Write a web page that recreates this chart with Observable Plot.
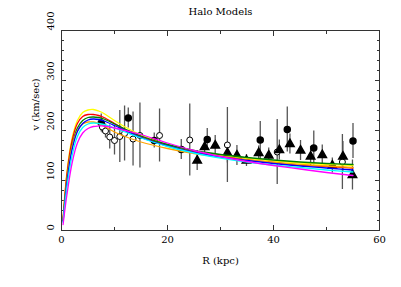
<!DOCTYPE html>
<html><head><meta charset="utf-8">
<script src="https://cdn.jsdelivr.net/npm/d3@7"></script>
<script src="https://cdn.jsdelivr.net/npm/@observablehq/plot@0.6"></script>
<style>body{margin:0;background:#fff;}</style>
</head><body><div id="chart"></div>
<script>
const title = "Halo Models";
const xLabel = "R (kpc)";
const yLabel = "v (km/sec)";
const xMajor = [0, 20, 40, 60];
const xMinor = [10, 30, 50];
const yMajor = [0, 100, 200, 300, 400];
const yMinor = [20, 40, 60, 80, 120, 140, 160, 180, 220, 240, 260, 280, 320, 340, 360, 380];

// model curves
const modelR   = [0.3, 1, 2, 3, 4, 5, 6, 7, 8, 10, 12, 15, 20, 25, 30, 35, 40, 45, 50, 55];
const yellowV  = [25, 115, 185, 220, 236, 241, 242, 239, 234, 220, 207, 191, 172, 159, 150, 144, 139, 135, 132, 130];
const redV     = [22, 110, 180, 214, 228, 232, 232, 230, 226, 214, 202, 188, 170, 157, 148, 141, 136, 131, 128, 125];
const greenV   = [20, 100, 170, 205, 220, 226, 227, 226, 223, 213, 203, 189, 172, 160, 152, 146, 141, 137, 134, 132];
const orangeV  = [20, 100, 168, 200, 213, 217, 217, 214, 209, 197, 188, 177, 164, 154, 147, 141, 136, 132, 129, 126];
const blueV    = [18, 95, 162, 198, 214, 221, 223, 222, 219, 210, 200, 186, 169, 156, 147, 140, 134, 129, 125, 121];
const cyanV    = [16, 85, 150, 188, 206, 213, 215, 214, 212, 205, 197, 185, 168, 155, 145, 137, 131, 126, 121, 117];
const magentaV = [12, 70, 135, 175, 195, 204, 208, 209, 209, 205, 200, 192, 175, 160, 148, 138, 130, 123, 116, 110];
const modelNames  = ["yellow", "red", "green", "orange", "blue", "cyan", "magenta"];
const modelColors = ["#ffee00", "#ff2020", "#00dd00", "#ff8800", "#0000ff", "#00ffff", "#ff00ff"];
const modelValues = [yellowV, redV, greenV, orangeV, blueV, cyanV, magentaV];

// observations
const filledR   = [7.5, 12.6, 17.5, 22.6, 27.5, 37.5, 42.6, 47.6, 55.0];
const filledV   = [215, 225, 180, 162, 182, 181, 202, 165, 179];
const filledErr = [18, 20, 15, 20, 22, 37, 45, 34, 35];

const openR   = [7.7, 8.3, 9.1, 10.0, 11.0, 11.9, 13.5, 14.8, 18.5, 24.2, 31.3, 40.7, 53.0];
const openV   = [207, 199, 187, 180, 188, 194, 183, 190, 190, 181, 171, 157, 137];
const openErr = [12, 14, 24, 29, 52, 55, 54, 65, 53, 72, 75, 65, 55];

const triR   = [25.6, 27.0, 29.0, 31.3, 33.1, 34.9, 37.2, 39.1, 41.1, 43.1, 45.1, 47.0, 49.2, 51.1, 53.1, 54.9];
const triV   = [140, 167, 170, 155, 150, 140, 155, 150, 161, 173, 160, 148, 151, 130, 148, 111];
const triErr = [20, 18, 20, 20, 20, 12, 14, 15, 20, 20, 20, 20, 20, 15, 30, 30];

const models = modelNames.flatMap((name, k) => modelR.map((r, i) => ({name, r, v: modelValues[k][i]})));
const mk = (R, V, E) => R.map((r, i) => ({r, v: V[i], e: E[i]}));
const filled = mk(filledR, filledV, filledErr);
const open = mk(openR, openV, openErr);
const tri = mk(triR, triV, triErr);
const allObs = [...filled, ...open, ...tri];

const blank = () => "";
const chart = Plot.plot({
  width: 401, height: 287,
  marginLeft: 61, marginRight: 22, marginTop: 30, marginBottom: 57,
  style: {fontFamily: "DejaVu Serif", fontSize: "10px", background: "#fff"},
  x: {domain: [0, 60]},
  y: {domain: [0, 400]},
  color: {domain: modelNames, range: modelColors},
  marks: [
    Plot.axisX(xMajor, {anchor: "bottom", tickSize: -5, tickFormat: blank, label: null, stroke: "#333"}),
    Plot.axisX(xMinor, {anchor: "bottom", tickSize: -3, tickFormat: blank, label: null, stroke: "#333"}),
    Plot.axisX(xMajor, {anchor: "top", tickSize: -5, tickFormat: blank, label: null, stroke: "#333"}),
    Plot.axisX(xMinor, {anchor: "top", tickSize: -3, tickFormat: blank, label: null, stroke: "#333"}),
    Plot.axisY(yMajor, {anchor: "left", tickSize: -5, tickFormat: blank, label: null, stroke: "#333"}),
    Plot.axisY(yMinor, {anchor: "left", tickSize: -3, tickFormat: blank, label: null, stroke: "#333"}),
    Plot.axisY(yMajor, {anchor: "right", tickSize: -5, tickFormat: blank, label: null, stroke: "#333"}),
    Plot.axisY(yMinor, {anchor: "right", tickSize: -3, tickFormat: blank, label: null, stroke: "#333"}),
    Plot.frame({stroke: "#333"}),
    Plot.text(xMajor, {x: d => d, text: d => `${d}`, frameAnchor: "bottom", dy: 12, fill: "#000"}),
    Plot.text(yMajor, {y: d => d, text: d => `${d}`, frameAnchor: "left", dx: -11, rotate: -90, fill: "#000"}),
    Plot.text([xLabel], {text: d => d, frameAnchor: "bottom", dy: 33, fill: "#000"}),
    Plot.text([yLabel], {text: d => d, frameAnchor: "left", dx: -26, rotate: -90, fill: "#000"}),
    Plot.text([title], {text: d => d, frameAnchor: "top", dy: -23, fill: "#000"}),
    Plot.ruleX(allObs, {x: "r", y1: d => d.v - d.e, y2: d => d.v + d.e, stroke: "#555", strokeWidth: 1.3}),
    Plot.dot(filled, {x: "r", y: "v", r: 3, fill: "#000", stroke: "#000"}),
    Plot.dot(open, {x: "r", y: "v", r: 3, fill: "#fff", stroke: "#000", strokeWidth: 1}),
    Plot.dot(tri, {x: "r", y: "v", r: 3.1, symbol: "triangle", fill: "#000", stroke: "#000"}),
    Plot.line(models, {x: "r", y: "v", z: "name", stroke: "name", strokeWidth: 1.3, curve: "catmull-rom"})
  ]
});
document.getElementById("chart").appendChild(chart);
</script>
</body></html>
